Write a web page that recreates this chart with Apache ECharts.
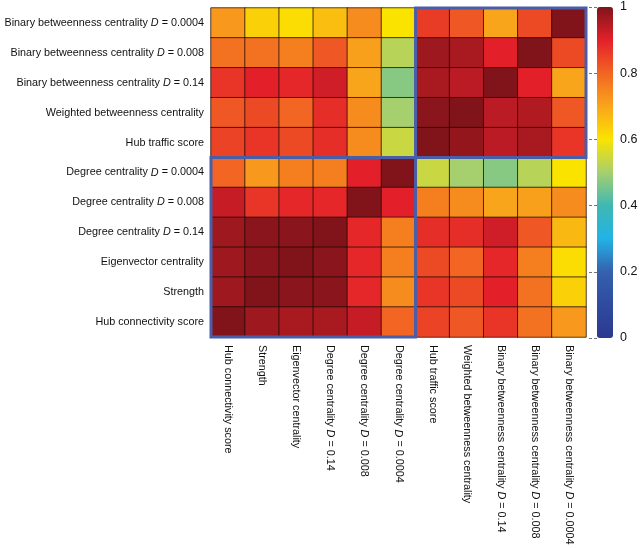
<!DOCTYPE html>
<html><head><meta charset="utf-8">
<script src="https://cdn.jsdelivr.net/npm/echarts@6/dist/echarts.min.js"></script>
<style>html,body{margin:0;padding:0;background:#fff}#c{width:640px;height:548px}</style>
</head><body><div id="c"></div>
<script>
const rowLabels = [
  'Binary betweenness centrality D = 0.0004',
  'Binary betweenness centrality D = 0.008',
  'Binary betweenness centrality D = 0.14',
  'Weighted betweenness centrality',
  'Hub traffic score',
  'Degree centrality D = 0.0004',
  'Degree centrality D = 0.008',
  'Degree centrality D = 0.14',
  'Eigenvector centrality',
  'Strength',
  'Hub connectivity score'
];
const colLabels = [
  'Hub connectivity score',
  'Strength',
  'Eigenvector centrality',
  'Degree centrality D = 0.14',
  'Degree centrality D = 0.008',
  'Degree centrality D = 0.0004',
  'Hub traffic score',
  'Weighted betweenness centrality',
  'Binary betweenness centrality D = 0.14',
  'Binary betweenness centrality D = 0.008',
  'Binary betweenness centrality D = 0.0004'
];
const values = [
  [0.72,0.63,0.61,0.66,0.74,0.60,0.86,0.82,0.70,0.84,1.00],
  [0.78,0.78,0.76,0.82,0.71,0.52,0.97,0.96,0.90,1.00,0.84],
  [0.87,0.90,0.89,0.92,0.70,0.47,0.96,0.94,1.00,0.90,0.70],
  [0.82,0.84,0.80,0.88,0.74,0.50,0.99,1.00,0.94,0.95,0.82],
  [0.85,0.87,0.84,0.88,0.74,0.54,1.00,0.98,0.94,0.96,0.87],
  [0.80,0.72,0.76,0.76,0.90,1.00,0.54,0.50,0.47,0.52,0.60],
  [0.93,0.87,0.89,0.89,1.00,0.90,0.76,0.74,0.70,0.71,0.74],
  [0.97,0.99,0.99,1.00,0.89,0.76,0.88,0.88,0.92,0.82,0.67],
  [0.97,0.99,1.00,0.99,0.89,0.76,0.84,0.80,0.89,0.76,0.61],
  [0.97,1.00,0.99,0.99,0.89,0.74,0.87,0.84,0.90,0.78,0.63],
  [1.00,0.97,0.96,0.96,0.93,0.80,0.85,0.82,0.87,0.78,0.72]
];
const colorbarTicks = [0, 0.2, 0.4, 0.6, 0.8, 1];
// blocks: [colStart, rowStart, colEnd, rowEnd]
const blocks = [[6,0,10,4],[0,5,5,10]];

const palette = ['#2b3990','#2f4aa0','#3561ae','#22b2e6','#3fb8b3','#a6cf6e','#fbe300','#f9a51b','#f26522','#e3202a','#80141a'];

const heat = [];
values.forEach((row, r) => row.forEach((v, c) => heat.push([c, r, v])));

const FONT = '"Liberation Sans", Arial, Helvetica, sans-serif';
const FS = 10.8;
const rich = { i: { fontStyle: 'italic', fontSize: FS, fontFamily: FONT, color: '#111' } };
const fmt = v => v.replace(' D = ', ' {i|D} = ');

const chart = echarts.init(document.getElementById('c'), null, { renderer: 'canvas' });
chart.setOption({
  animation: false,
  backgroundColor: '#fff',
  grid: [
    { left: 211, top: 8, width: 375, height: 329, containLabel: false, outerBoundsMode: 'none' },
    { left: 597, top: 7, width: 16, height: 331, containLabel: false, outerBoundsMode: 'none' }
  ],
  xAxis: [
    { type: 'category', data: colLabels, gridIndex: 0, position: 'bottom',
      axisLine: { show: false }, axisTick: { show: false }, splitArea: { show: false },
      axisLabel: { rotate: -90, margin: 8, fontSize: FS, fontFamily: FONT, color: '#111', interval: 0, formatter: fmt, rich } },
    { type: 'value', gridIndex: 1, show: false, min: 0, max: 1 }
  ],
  yAxis: [
    { type: 'category', data: rowLabels, gridIndex: 0, inverse: true,
      axisLine: { show: false }, axisTick: { show: false }, splitArea: { show: false },
      axisLabel: { margin: 7, fontSize: FS, fontFamily: FONT, color: '#111', interval: 0, formatter: fmt, rich } },
    { type: 'value', gridIndex: 1, min: 0, max: 1, interval: 0.2, position: 'right', z: 5,
      axisLine: { show: false }, splitLine: { show: false },
      axisTick: { show: true, inside: true, length: 8, lineStyle: { color: 'rgba(0,0,0,0.55)', type: [3, 2] } },
      axisLabel: { margin: 7, fontSize: 12.5, fontFamily: FONT, color: '#111',
        formatter: v => colorbarTicks.indexOf(+v.toFixed(1)) >= 0 ? String(+v.toFixed(1)) : '' } }
  ],
  visualMap: {
    type: 'continuous', min: 0, max: 1, seriesIndex: 0, calculable: false,
    orient: 'vertical', left: 597, top: 7, itemWidth: 16, itemHeight: 331, padding: 0,
    text: null, showLabel: false, z: 1,
    inRange: { color: palette }
  },
  series: [
    { type: 'heatmap', xAxisIndex: 0, yAxisIndex: 0, data: heat,
      itemStyle: { borderColor: 'rgba(30,10,5,0.75)', borderWidth: 1 },
      emphasis: { disabled: true } },
    { type: 'custom', xAxisIndex: 0, yAxisIndex: 0, data: blocks, clip: false, z: 10,
      encode: { x: [0, 2], y: [1, 3] },
      renderItem: (params, api) => {
        const p0 = api.coord([api.value(0), api.value(1)]);
        const p1 = api.coord([api.value(2), api.value(3)]);
        const s = api.size([1, 1]);
        const x0 = Math.min(p0[0], p1[0]) - s[0] / 2;
        const x1 = Math.max(p0[0], p1[0]) + s[0] / 2;
        const y0 = Math.min(p0[1], p1[1]) - s[1] / 2;
        const y1 = Math.max(p0[1], p1[1]) + s[1] / 2;
        return { type: 'rect', shape: { x: x0, y: y0, width: x1 - x0, height: y1 - y0 },
          style: { fill: 'none', stroke: '#4a5ea8', lineWidth: 3 } };
      } }
  ]
});
</script></body></html>
